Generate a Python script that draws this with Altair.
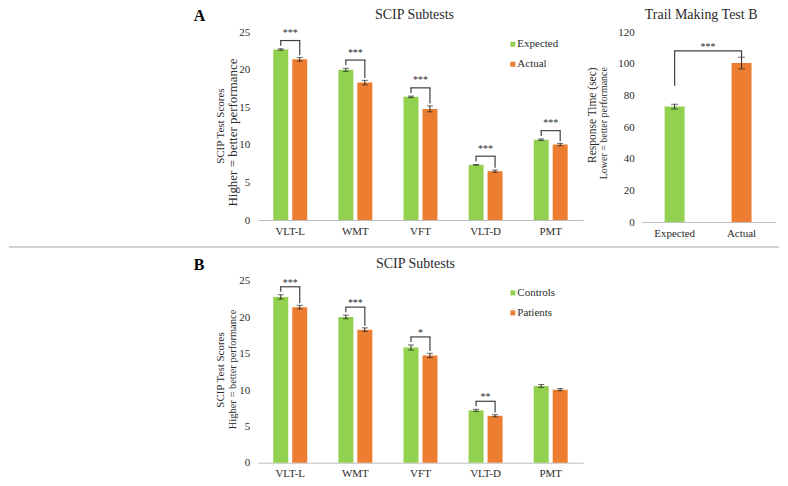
import altair as alt
import pandas as pd

# ---------------- data ----------------
categories = ["VLT-L", "WMT", "VFT", "VLT-D", "PMT"]

a_series = ["Expected", "Actual"]
a_expected = [22.7, 20.0, 16.4, 7.35, 10.7]
a_expected_err = [0.1, 0.2, 0.1, 0.05, 0.1]
a_actual = [21.4, 18.3, 14.8, 6.5, 10.05]
a_actual_err = [0.25, 0.3, 0.4, 0.15, 0.15]
a_stars = ["***", "***", "***", "***", "***"]

trail_groups = ["Expected", "Actual"]
trail_values = [73.0, 100.5]
trail_err = [1.5, 3.7]
trail_star = "***"

b_series = ["Controls", "Patients"]
b_controls = [22.8, 20.05, 15.85, 7.2, 10.55]
b_controls_err = [0.3, 0.25, 0.35, 0.15, 0.2]
b_patients = [21.4, 18.3, 14.75, 6.45, 10.05]
b_patients_err = [0.25, 0.25, 0.3, 0.15, 0.15]
b_stars = ["***", "***", "*", "**", ""]

scip_ticks = [0, 5, 10, 15, 20, 25]
trail_ticks = [0, 20, 40, 60, 80, 100, 120]

# ---------------- style ----------------
SERIF = "Liberation Serif"
TXT = "#2b2b2b"
GREEN = "#92D050"
ORANGE = "#ED7D31"
ERR = "#262626"
BRK = "#404040"

A_W, A_H = 326, 188
T_W, T_H = 134, 190
B_W, B_H = 326, 182
BAR_W = 15
OFF = 9.5

one = pd.DataFrame({"k": [0]})


def scip_panel(names, g, ge, o, oe, stars, title, letter, h, star_dy,
               yt1, yt2, yt2_size, yt1_pos, yt2_pos, title_dx, with_sep):
    gdf = pd.DataFrame({"cat": categories, "series": names[0], "value": g,
                        "lo": [v - e for v, e in zip(g, ge)], "hi": [v + e for v, e in zip(g, ge)]})
    odf = pd.DataFrame({"cat": categories, "series": names[1], "value": o,
                        "lo": [v - e for v, e in zip(o, oe)], "hi": [v + e for v, e in zip(o, oe)]})

    brows = []
    for i, c in enumerate(categories):
        if not stars[i]:
            continue
        gt = g[i] + ge[i]
        ot = o[i] + oe[i]
        top = max(gt, ot) + 1.1
        brows.append(dict(cat=c, top=top, left=top - 0.7, right=ot + 0.3, s=stars[i]))
    bdf = pd.DataFrame(brows)

    x = alt.X("cat:N", sort=categories,
              axis=alt.Axis(title=None, labelAngle=0, ticks=False, domainColor="#BFBFBF",
                            labelFont=SERIF, labelFontSize=11, labelColor=TXT, labelPadding=5))
    yscale = alt.Scale(domain=[0, 25], nice=False)
    yaxis = alt.Axis(values=scip_ticks, domain=False, ticks=False, grid=False,
                     labelFont=SERIF, labelFontSize=11, labelColor=TXT, labelPadding=8,
                     title=None)

    def Y(f):
        return alt.Y(f, scale=yscale, axis=yaxis)

    color = alt.Color("series:N", sort=names,
                      scale=alt.Scale(domain=names, range=[GREEN, ORANGE]), legend=None)

    layers = []
    for d, off in ((gdf, -OFF), (odf, OFF)):
        layers.append(alt.Chart(d).mark_bar(width=BAR_W, xOffset=off).encode(
            x=x, y=Y("value:Q"), color=color))
        layers.append(alt.Chart(d).mark_rule(color=ERR, strokeWidth=1, xOffset=off).encode(
            x=x, y=Y("lo:Q"), y2="hi:Q"))
        layers.append(alt.Chart(d).mark_tick(color=ERR, thickness=1, size=6, xOffset=off).encode(
            x=x, y=Y("lo:Q")))
        layers.append(alt.Chart(d).mark_tick(color=ERR, thickness=1, size=6, xOffset=off).encode(
            x=x, y=Y("hi:Q")))

    layers.append(alt.Chart(bdf).mark_rule(color=BRK, strokeWidth=1.2, xOffset=-OFF).encode(
        x=x, y=Y("left:Q"), y2="top:Q"))
    layers.append(alt.Chart(bdf).mark_rule(color=BRK, strokeWidth=1.2, xOffset=OFF).encode(
        x=x, y=Y("right:Q"), y2="top:Q"))
    layers.append(alt.Chart(bdf).mark_rule(color=BRK, strokeWidth=1.2, xOffset=-OFF - 0.6,
                                           x2Offset=OFF + 0.6).encode(
        x=x, x2="cat:N", y=Y("top:Q")))
    layers.append(alt.Chart(bdf).mark_text(font=SERIF, fontSize=10, color=TXT, baseline="alphabetic",
                                           dy=star_dy).encode(
        x=x, y=Y("top:Q"), text="s:N"))

    # legend (drawn as marks so the serif font is kept)
    for j, (nm, colr) in enumerate(zip(names, [GREEN, ORANGE])):
        ly = 12 + 20 * j
        layers.append(alt.Chart(one).mark_square(size=25, color=colr, opacity=1).encode(
            x=alt.value(255.5), y=alt.value(ly)))
        layers.append(alt.Chart(one).mark_text(text=nm, font=SERIF, fontSize=11, color=TXT,
                                               align="left", baseline="middle").encode(
            x=alt.value(260), y=alt.value(ly)))

    layers.append(alt.Chart(one).mark_text(text=letter, font=SERIF, fontSize=16, fontWeight="bold",
                                           color="#000000", align="left", baseline="alphabetic").encode(
        x=alt.value(-64), y=alt.value(-11)))
    layers.append(alt.Chart(one).mark_text(text=title, font=SERIF, fontSize=14, color=TXT,
                                           align="center", baseline="alphabetic").encode(
        x=alt.value(A_W / 2 + title_dx), y=alt.value(-13)))
    layers.append(alt.Chart(one).mark_text(text=yt1, font=SERIF, fontSize=11, color=TXT, angle=270,
                                           align="center", baseline="middle").encode(
        x=alt.value(-37), y=alt.value(h * yt1_pos)))
    layers.append(alt.Chart(one).mark_text(text=yt2, font=SERIF, fontSize=yt2_size, color=TXT, angle=270,
                                           align="center", baseline="middle").encode(
        x=alt.value(-25), y=alt.value(h * yt2_pos)))
    if with_sep:
        layers.append(alt.Chart(one).mark_rule(color="#A6A6A6", strokeWidth=1).encode(
            x=alt.value(-249), x2=alt.value(522), y=alt.value(-34)))
    else:
        layers.append(alt.Chart(one).mark_rule(color="#FFFFFF", strokeWidth=1).encode(
            x=alt.value(-249), x2=alt.value(-247), y=alt.value(h * 0.5)))

    return alt.layer(*layers).properties(width=A_W, height=h)


panel_a = scip_panel(a_series, a_expected, a_expected_err, a_actual, a_actual_err, a_stars,
                     "SCIP Subtests", "A", A_H, -4.5,
                     "SCIP Test Scores", "Higher = better performance", 13, 0.5, 0.534, -6, False)
panel_b = scip_panel(b_series, b_controls, b_controls_err, b_patients, b_patients_err, b_stars,
                     "SCIP Subtests", "B", B_H, -1,
                     "SCIP Test Scores", "Higher = better performance", 10.5, 0.49, 0.487, -5, True)

# ---------------- trail making ----------------
tdf = pd.DataFrame({"g": trail_groups, "value": trail_values,
                    "lo": [v - e for v, e in zip(trail_values, trail_err)],
                    "hi": [v + e for v, e in zip(trail_values, trail_err)]})
t_top = max(tdf["hi"]) + 4
tb = pd.DataFrame({"g": trail_groups, "top": [t_top, t_top],
                   "end": [t_top - 22, tdf["hi"][1]]})
ts = pd.DataFrame({"y": [t_top], "s": [trail_star]})

tx = alt.X("g:N", sort=trail_groups,
           axis=alt.Axis(title=None, labelAngle=0, ticks=False, domainColor="#BFBFBF",
                         labelFont=SERIF, labelFontSize=11, labelColor=TXT, labelPadding=5))
tscale = alt.Scale(domain=[0, 120], nice=False)
taxis = alt.Axis(values=trail_ticks, domain=False, ticks=False, grid=False,
                 labelFont=SERIF, labelFontSize=11, labelColor=TXT, labelPadding=7, title=None)


def TY(f):
    return alt.Y(f, scale=tscale, axis=taxis)


t_bars = alt.Chart(tdf).mark_bar(width=20).encode(
    x=tx, y=TY("value:Q"),
    color=alt.Color("g:N", sort=trail_groups,
                    scale=alt.Scale(domain=trail_groups, range=[GREEN, ORANGE]), legend=None))
t_err = alt.Chart(tdf).mark_rule(color=ERR, strokeWidth=1).encode(x=tx, y=TY("lo:Q"), y2="hi:Q")
t_clo = alt.Chart(tdf).mark_tick(color=ERR, thickness=1, size=7).encode(x=tx, y=TY("lo:Q"))
t_chi = alt.Chart(tdf).mark_tick(color=ERR, thickness=1, size=7).encode(x=tx, y=TY("hi:Q"))
t_v = alt.Chart(tb).mark_rule(color=BRK, strokeWidth=1.2).encode(x=tx, y=TY("end:Q"), y2="top:Q")
t_h = alt.Chart(ts).mark_rule(color=BRK, strokeWidth=1.2).encode(
    x=alt.value(T_W / 4 - 0.6), x2=alt.value(3 * T_W / 4 + 0.6), y=TY("y:Q"))
t_st = alt.Chart(ts).mark_text(font=SERIF, fontSize=10, color=TXT, baseline="alphabetic", dy=-1).encode(
    x=alt.value(T_W / 2), y=TY("y:Q"), text="s:N")
t_title = alt.Chart(one).mark_text(text="Trail Making Test B", font=SERIF, fontSize=14, color=TXT,
                                   align="center", baseline="alphabetic").encode(
    x=alt.value(T_W / 2 - 7), y=alt.value(-13))
t_t1 = alt.Chart(one).mark_text(text="Response Time (sec)", font=SERIF, fontSize=11.5, color=TXT,
                                angle=270, align="center", baseline="middle").encode(
    x=alt.value(-48), y=alt.value(T_H * 0.437))
t_t2 = alt.Chart(one).mark_text(text="Lower = better performance", font=SERIF, fontSize=10, color=TXT,
                                angle=270, align="center", baseline="middle").encode(
    x=alt.value(-37), y=alt.value(T_H * 0.479))

panel_t = alt.layer(t_bars, t_err, t_clo, t_chi, t_v, t_h, t_st, t_title, t_t1, t_t2).properties(
    width=T_W, height=T_H)

top_row = alt.hconcat(panel_a, panel_t, spacing=58, bounds="flush").resolve_scale(color="independent")

chart = alt.vconcat(top_row, panel_b, spacing=8).resolve_scale(
    color="independent"
).properties(padding=0).configure_view(stroke=None).configure_axis(labelFont=SERIF)

chart.save("out.html", embed_options={"renderer": "svg", "actions": False})
